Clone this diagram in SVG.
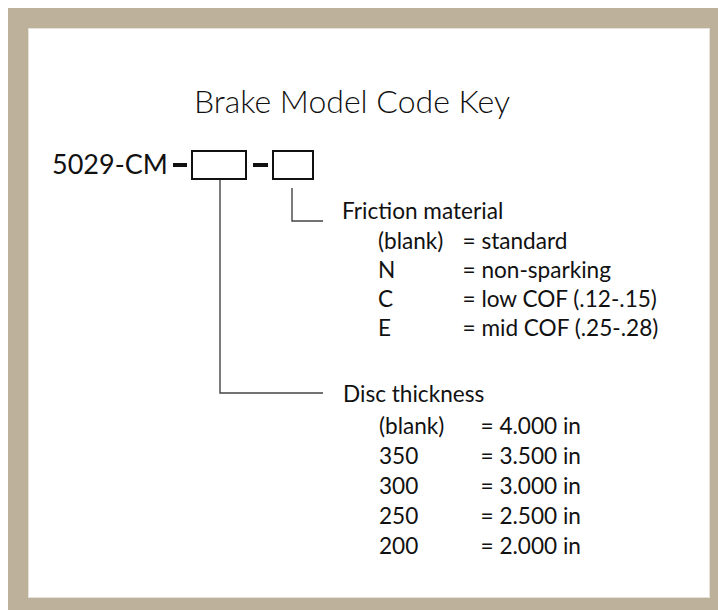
<svg xmlns="http://www.w3.org/2000/svg" width="718" height="610" viewBox="0 0 718 610">
<style>
  text { font-family: Lato, "Liberation Sans", sans-serif; fill: #111; }
  .title { font-size: 32px; font-weight: 300; }
  .code { font-size: 27px; }
  .lbl { font-size: 22.6px; }
  .box { fill: #fff; stroke: #111; stroke-width: 2; }
  .dash { stroke: #111; stroke-width: 4; }
  .conn { fill: none; stroke: #444; stroke-width: 1.4; }
</style>
<rect x="8" y="8" width="710" height="602" fill="#bdb19b"/>
<rect x="28.5" y="28.5" width="681" height="569" fill="#fff" stroke="#e6e2da" stroke-width="1"/>
<g id="title"><text class="title" x="352" y="113" text-anchor="middle">Brake Model Code Key</text></g>
<g id="code">
  <text class="code" x="52" y="174">5029-CM</text>
  <line class="dash" x1="173" y1="165" x2="187" y2="165"/>
  <rect class="box" x="192" y="151" width="54" height="28"/>
  <line class="dash" x1="253" y1="165" x2="268" y2="165"/>
  <rect class="box" x="273" y="151" width="40" height="28"/>
</g>
<g id="connectors">
  <path class="conn" d="M220 180 V393 H323"/>
  <path class="conn" d="M292 188 V221 H323"/>
</g>
<g id="friction">
  <text class="lbl" x="342" y="218.5">Friction material</text>
  <text class="lbl" x="378" y="248.5">(blank)</text><text class="lbl" x="462.5" y="248.5">= standard</text>
  <text class="lbl" x="378" y="277.5">N</text><text class="lbl" x="462.5" y="277.5">= non-sparking</text>
  <text class="lbl" x="378" y="306.5">C</text><text class="lbl" x="462.5" y="306.5">= low COF (.12-.15)</text>
  <text class="lbl" x="378" y="335.5">E</text><text class="lbl" x="462.5" y="335.5">= mid COF (.25-.28)</text>
</g>
<g id="disc">
  <text class="lbl" x="343" y="402">Disc thickness</text>
  <text class="lbl" x="379" y="434">(blank)</text><text class="lbl" x="480.5" y="434">= 4.000 in</text>
  <text class="lbl" x="379" y="464">350</text><text class="lbl" x="480.5" y="464">= 3.500 in</text>
  <text class="lbl" x="379" y="494">300</text><text class="lbl" x="480.5" y="494">= 3.000 in</text>
  <text class="lbl" x="379" y="524">250</text><text class="lbl" x="480.5" y="524">= 2.500 in</text>
  <text class="lbl" x="379" y="554">200</text><text class="lbl" x="480.5" y="554">= 2.000 in</text>
</g>
</svg>
